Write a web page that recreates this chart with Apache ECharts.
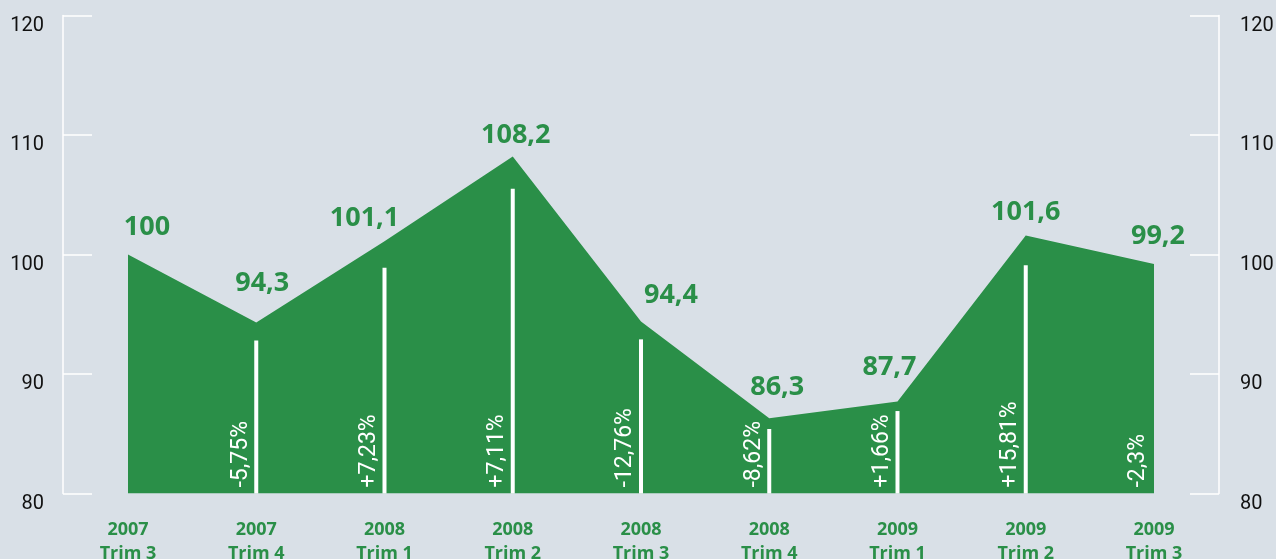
<!DOCTYPE html>
<html>
<head>
<meta charset="utf-8">
<script src="https://cdn.jsdelivr.net/npm/echarts@6/dist/echarts.min.js"></script>
<style>
  html, body { margin: 0; padding: 0; background: #d9e0e7; }
  #chart { width: 1276px; height: 559px; }
</style>
</head>
<body>
<div id="chart"></div>
<script>
const quarters = [
  "2007\nTrim 3",
  "2007\nTrim 4",
  "2008\nTrim 1",
  "2008\nTrim 2",
  "2008\nTrim 3",
  "2008\nTrim 4",
  "2009\nTrim 1",
  "2009\nTrim 2",
  "2009\nTrim 3",
];
const indexValues = [100, 94.3, 101.1, 108.2, 94.4, 86.3, 87.7, 101.6, 99.2];
const changeLabels = ["", "-5,75%", "+7,23%", "+7,11%", "-12,76%", "-8,62%", "+1,66%", "+15,81%", "-2,3%"];
// top of the white marker under each point (null = no marker)
const markerTops = [null, 92.8, 98.9, 105.5, 92.9, 85.4, 86.9, 99.1, null];

const yMin = 80;
const yMax = 120;
const yStep = 10;

// label nudges (px) relative to each point
const labelNudge = [[19, -27], [6, -39], [-20, -23], [3, -21], [30, -26], [8, -31], [-8, -34], [0, -23], [4, -28]];

const green = "#2a8f48";

const chart = echarts.init(document.getElementById("chart"));

const sideAxis = (pos, margin) => ({
  type: "value",
  position: pos,
  offset: 65,
  min: yMin,
  max: yMax,
  interval: yStep,
  axisLine: { show: true, lineStyle: { color: "#ffffff", width: 1.5 } },
  axisTick: { show: true, inside: true, length: 29, lineStyle: { color: "#ffffff", width: 1.5 } },
  axisLabel: {
    margin: margin,
    color: "#111111",
    fontSize: 20,
    fontFamily: "Roboto",
    verticalAlign: "top",
    lineHeight: 20,
  },
  splitLine: { show: false },
});

chart.setOption({
  backgroundColor: "#d9e0e7",
  animation: false,
  grid: {
    left: 128,
    right: 122,
    top: 15.5,
    bottom: 65.5,
    containLabel: false,
    outerBoundsMode: "none",
  },
  xAxis: {
    type: "category",
    data: quarters,
    boundaryGap: false,
    axisLine: { show: false },
    axisTick: { show: false },
    splitLine: { show: false },
    axisLabel: {
      margin: 24,
      color: green,
      fontSize: 18,
      fontWeight: "bold",
      fontFamily: "Open Sans",
      lineHeight: 24,
      interval: 0,
    },
  },
  yAxis: [sideAxis("left", 19), sideAxis("right", 21)],
  series: [
    {
      type: "line",
      yAxisIndex: 0,
      z: 2,
      data: indexValues.map((v, i) => ({ value: v, label: { offset: labelNudge[i] } })),
      showSymbol: true,
      symbol: "circle",
      symbolSize: 0.1,
      itemStyle: { color: green },
      lineStyle: { width: 0 },
      areaStyle: { color: green, opacity: 1 },
      label: {
        show: true,
        position: "top",
        distance: 0,
        verticalAlign: "middle",
        color: green,
        fontSize: 27,
        fontWeight: "bold",
        fontFamily: "Open Sans",
        formatter: (p) => String(p.value).replace(".", ","),
      },
      silent: true,
    },
    {
      type: "custom",
      yAxisIndex: 0,
      z: 5,
      silent: true,
      clip: false,
      data: quarters.map((q, i) => [i, markerTops[i] == null ? yMin : markerTops[i]]).slice(1),
      renderItem: (params, api) => {
        const i = api.value(0);
        const base = api.coord([i, yMin]);
        const top = api.coord([i, api.value(1)]);
        const children = [];
        if (base[1] - top[1] > 0) {
          children.push({
            type: "rect",
            shape: { x: base[0] - 2, y: top[1], width: 4, height: base[1] - top[1] },
            style: { fill: "#ffffff" },
          });
        }
        children.push({
          type: "text",
          x: base[0] - 4,
          y: base[1] - 6,
          rotation: Math.PI / 2,
          style: {
            text: changeLabels[i],
            fill: "#ffffff",
            font: "23px Roboto",
            align: "left",
            verticalAlign: "bottom",
          },
        });
        return { type: "group", children: children };
      },
    },
  ],
});
</script>
</body>
</html>
